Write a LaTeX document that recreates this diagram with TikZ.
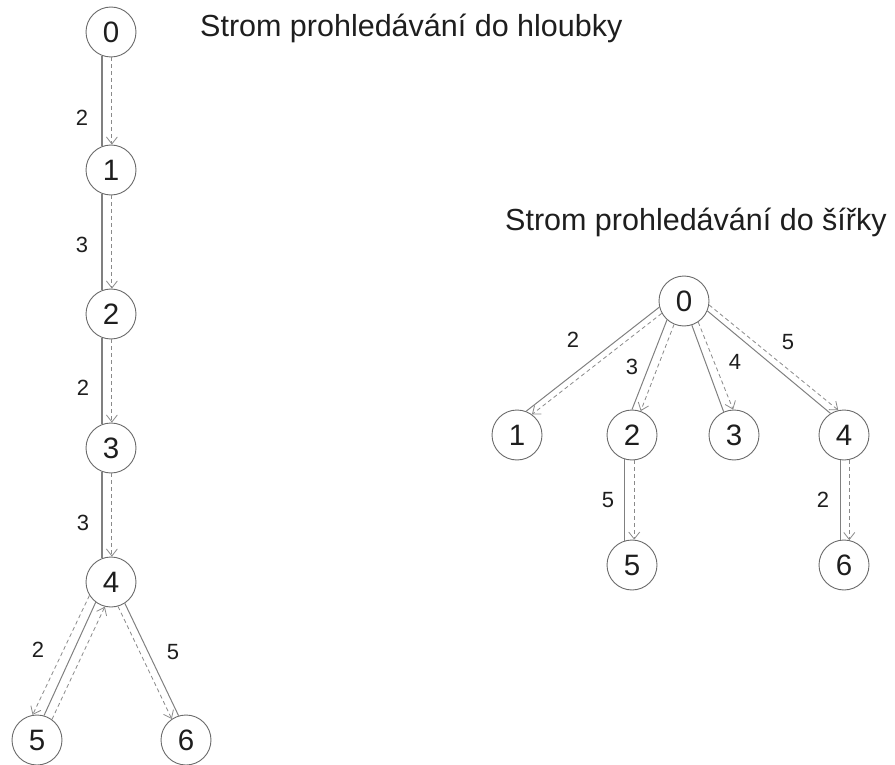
\documentclass[tikz,border=0pt]{standalone}
\usepackage{fontspec}
\setmainfont{Liberation Sans}
\usetikzlibrary{arrows.meta}

\definecolor{ink}{HTML}{1E1E1E}
\definecolor{rim}{HTML}{6A6A6A}
\definecolor{edgegray}{HTML}{808080}
\definecolor{dashgray}{HTML}{8A8A8A}

\tikzset{
  vertex/.style={circle, draw=rim, line width=0.9pt, minimum size=50pt,
    inner sep=0pt, text=ink, font=\fontsize{29.5}{31}\selectfont},
  treeedge/.style={draw=edgegray, line width=1pt},
  thickedge/.style={treeedge, line width=1.3pt},
  searchedge/.style={draw=dashgray, line width=0.8pt, dash pattern=on 4pt off 3pt,
    -{Straight Barb[length=7pt,width=11pt]}},
  weight/.style={inner sep=0pt, text=ink, font=\fontsize{22}{24}\selectfont},
  caption/.style={anchor=base west, inner sep=0pt, text=ink,
    font=\fontsize{30.5}{33}\selectfont}
}

\begin{document}
\begin{tikzpicture}[x=1pt,y=-1pt]
\useasboundingbox (0,0) rectangle (895,765);

% ---------- depth-first search tree ----------
\node[caption] (dtitle) at (200,37) {Strom prohledávání do hloubky};

\node[vertex] (d0) at (111,32)  {0};
\node[vertex] (d1) at (111,170) {1};
\node[vertex] (d2) at (111,314) {2};
\node[vertex] (d3) at (111,448) {3};
\node[vertex] (d4) at (111,582) {4};
\node[vertex] (d5) at (37,740)  {5};
\node[vertex] (d6) at (186,740) {6};

\node[weight] (dw01) at (82,118) {2};
\node[weight] (dw12) at (82,245) {3};
\node[weight] (dw23) at (83,388) {2};
\node[weight] (dw34) at (83,523) {3};
\node[weight] (dw45) at (38,650) {2};
\node[weight] (dw46) at (173,652) {5};

\foreach \a/\b in {d0/d1, d1/d2, d2/d3, d3/d4}{
  \draw[thickedge] (\a.-111) -- (\b.111);
  \draw[searchedge] (\a.-88) -- (\b.88);
}
\draw[searchedge] (d4.-148) -- (d5.100);
\draw[treeedge]   (d4.-127) -- (d5.74);
\draw[searchedge] (d5.54) -- (d4.-104);
\draw[treeedge]   (d4.-57) -- (d6.107);
\draw[searchedge] (d4.-74) -- (d6.124);

% ---------- breadth-first search tree ----------
\node[caption] (stitle) at (505,230) {Strom prohledávání do šířky};

\node[vertex] (s0) at (684,301) {0};
\node[vertex] (s1) at (517,435) {1};
\node[vertex] (s2) at (632,435) {2};
\node[vertex] (s3) at (734,435) {3};
\node[vertex] (s4) at (844,435) {4};
\node[vertex] (s5) at (632,565) {5};
\node[vertex] (s6) at (844,565) {6};

\node[weight] (sw01) at (573,340) {2};
\node[weight] (sw02) at (632,367) {3};
\node[weight] (sw03) at (735,362) {4};
\node[weight] (sw04) at (788,342) {5};
\node[weight] (sw25) at (608,500) {5};
\node[weight] (sw46) at (823,500) {2};

\draw[treeedge]   (s0.-166) -- (s1.69);
\draw[searchedge] (s0.-151) -- (s1.54);
\draw[treeedge]   (s0.-132) -- (s2.90);
\draw[searchedge] (s0.-113) -- (s2.70);
\draw[treeedge]   (s0.-72) -- (s3.114);
\draw[searchedge] (s0.-56) -- (s3.92);
\draw[treeedge]   (s0.-23) -- (s4.122);
\draw[searchedge] (s0.-9) -- (s4.103);
\draw[treeedge]   (s2.-106) -- (s5.106);
\draw[searchedge] (s2.-85) -- (s5.85);
\draw[treeedge]   (s4.-99) -- (s6.99);
\draw[searchedge] (s4.-78) -- (s6.78);
\end{tikzpicture}
\end{document}
